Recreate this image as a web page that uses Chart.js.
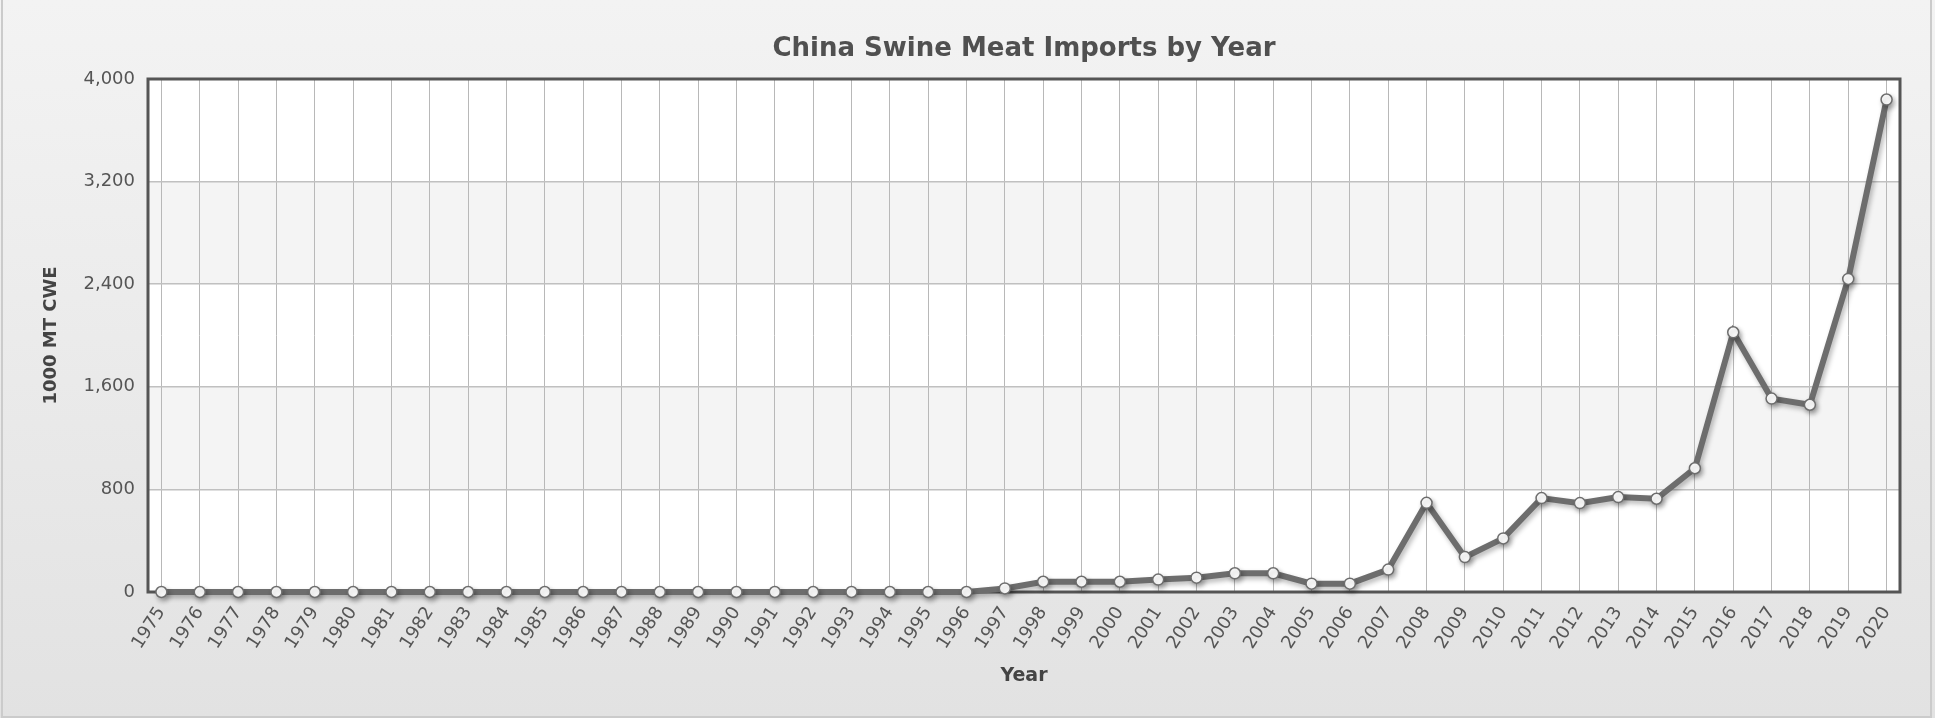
<!DOCTYPE html>
<html>
<head>
<meta charset="utf-8">
<title>China Swine Meat Imports by Year</title>
<script src="https://cdn.jsdelivr.net/npm/chart.js@4.4.1/dist/chart.umd.min.js"></script>
<style>
  html, body { margin: 0; padding: 0; background: #f0f0f0; }
  #wrap { width: 1935px; height: 718px; }
  canvas { display: block; }
</style>
</head>
<body>
<div id="wrap"><canvas id="chart" width="1935" height="718"></canvas></div>
<script>
// Marketing years shown on the category axis
const years = [
  1975, 1976, 1977, 1978, 1979, 1980, 1981, 1982, 1983, 1984,
  1985, 1986, 1987, 1988, 1989, 1990, 1991, 1992, 1993, 1994,
  1995, 1996, 1997, 1998, 1999, 2000, 2001, 2002, 2003, 2004,
  2005, 2006, 2007, 2008, 2009, 2010, 2011, 2012, 2013, 2014,
  2015, 2016, 2017, 2018, 2019, 2020
];

// Swine meat imports, 1000 MT carcass weight equivalent
const imports = [
  0, 0, 0, 0, 0, 0, 0, 0, 0, 0,
  0, 0, 0, 0, 0, 0, 0, 0, 0, 0,
  0, 0, 28, 80, 80, 80, 97, 112, 146, 146,
  65, 65, 175, 695, 272, 418, 732, 693, 740, 727,
  965, 2025, 1508, 1460, 2441, 3840
];

// Value axis ticks
const yTicks = [0, 800, 1600, 2400, 3200, 4000];

const chartTitle = 'China Swine Meat Imports by Year';
const xTitle = 'Year';
const yTitle = '1000 MT CWE';

const FONT = '"DejaVu Sans", Verdana, sans-serif';

// Page background, frame, white plot area, alternating grey bands and the title
const backdrop = {
  id: 'backdrop',
  beforeDraw(chart) {
    const { ctx, width, height, chartArea: a, scales: { y } } = chart;
    ctx.save();
    const g = ctx.createLinearGradient(0, 0, 0, height);
    g.addColorStop(0, '#f3f3f3');
    g.addColorStop(1, '#e2e2e2');
    ctx.fillStyle = g;
    ctx.fillRect(0, 0, width, height);
    ctx.strokeStyle = '#cbcbcb';
    ctx.lineWidth = 2;
    ctx.strokeRect(2, -2, 1929, 719);

    ctx.fillStyle = '#ffffff';
    ctx.fillRect(a.left, a.top, a.right - a.left, a.bottom - a.top);
    ctx.fillStyle = '#f4f4f4';
    for (let i = 1; i < yTicks.length - 1; i += 2) {
      const y0 = y.getPixelForValue(yTicks[i]);
      const y1 = y.getPixelForValue(yTicks[i + 1]);
      ctx.fillRect(a.left, y1, a.right - a.left, y0 - y1);
    }

    // chart title, centred over the plot area
    ctx.fillStyle = '#505050';
    ctx.font = 'bold 26px ' + FONT;
    ctx.textAlign = 'center';
    ctx.textBaseline = 'middle';
    ctx.fillText(chartTitle, (a.left + a.right) / 2, 49);
    ctx.restore();
  },
  beforeDatasetsDraw(chart) {
    const { ctx, chartArea: a } = chart;
    ctx.save();
    ctx.strokeStyle = '#555555';
    ctx.lineWidth = 3;
    ctx.strokeRect(a.left, a.top, a.right - a.left, a.bottom - a.top);
    ctx.restore();
  },
  beforeDatasetDraw(chart) {
    const ctx = chart.ctx;
    ctx.save();
    ctx.shadowColor = 'rgba(0,0,0,0.28)';
    ctx.shadowBlur = 5;
    ctx.shadowOffsetX = 2;
    ctx.shadowOffsetY = 3;
  },
  afterDatasetDraw(chart) {
    chart.ctx.restore();
  }
};

new Chart(document.getElementById('chart'), {
  type: 'line',
  data: {
    datasets: [{
      label: yTitle,
      data: years.map((yr, i) => ({ x: yr, y: imports[i] })),
      borderColor: '#6d6d6d',
      borderWidth: 6,
      tension: 0,
      pointRadius: 5.5,
      pointBorderWidth: 1.5,
      pointBackgroundColor: '#ffffff',
      pointBorderColor: '#6d6d6d',
      clip: false
    }]
  },
  options: {
    responsive: false,
    devicePixelRatio: 1,
    animation: false,
    layout: { padding: { left: 0, right: 35, top: 79, bottom: 0 } },
    plugins: {
      legend: { display: false },
      tooltip: { enabled: false },
      title: { display: false }
    },
    scales: {
      x: {
        type: 'linear',
        min: years[0] - 0.35,
        max: years[years.length - 1] + 0.35,
        afterBuildTicks(scale) {
          scale.ticks = years.map(v => ({ value: v }));
        },
        afterFit(scale) { scale.height = 126; },
        ticks: {
          autoSkip: false,
          minRotation: 57,
          maxRotation: 57,
          padding: 11,
          color: '#555555',
          font: { family: FONT, size: 18 },
          callback: v => String(v)
        },
        grid: { color: '#b8b8b8', lineWidth: 1, drawTicks: false },
        border: { display: false },
        title: {
          display: true,
          text: xTitle,
          color: '#444444',
          font: { family: FONT, size: 19, weight: 'bold' },
          padding: { top: 0, bottom: 31 }
        }
      },
      y: {
        min: 0,
        max: 4000,
        afterBuildTicks(scale) {
          scale.ticks = yTicks.map(v => ({ value: v }));
        },
        afterFit(scale) { scale.width = 148; },
        ticks: {
          padding: 13,
          color: '#555555',
          font: { family: FONT, size: 18 },
          callback: v => v.toLocaleString('en-US')
        },
        grid: { color: '#c0c0c0', lineWidth: 1.5, drawTicks: false },
        border: { display: false },
        title: {
          display: true,
          text: yTitle,
          color: '#444444',
          font: { family: FONT, size: 18, weight: 'bold' },
          padding: { top: 41, bottom: 0 }
        }
      }
    }
  },
  plugins: [backdrop]
});
</script>
</body>
</html>
